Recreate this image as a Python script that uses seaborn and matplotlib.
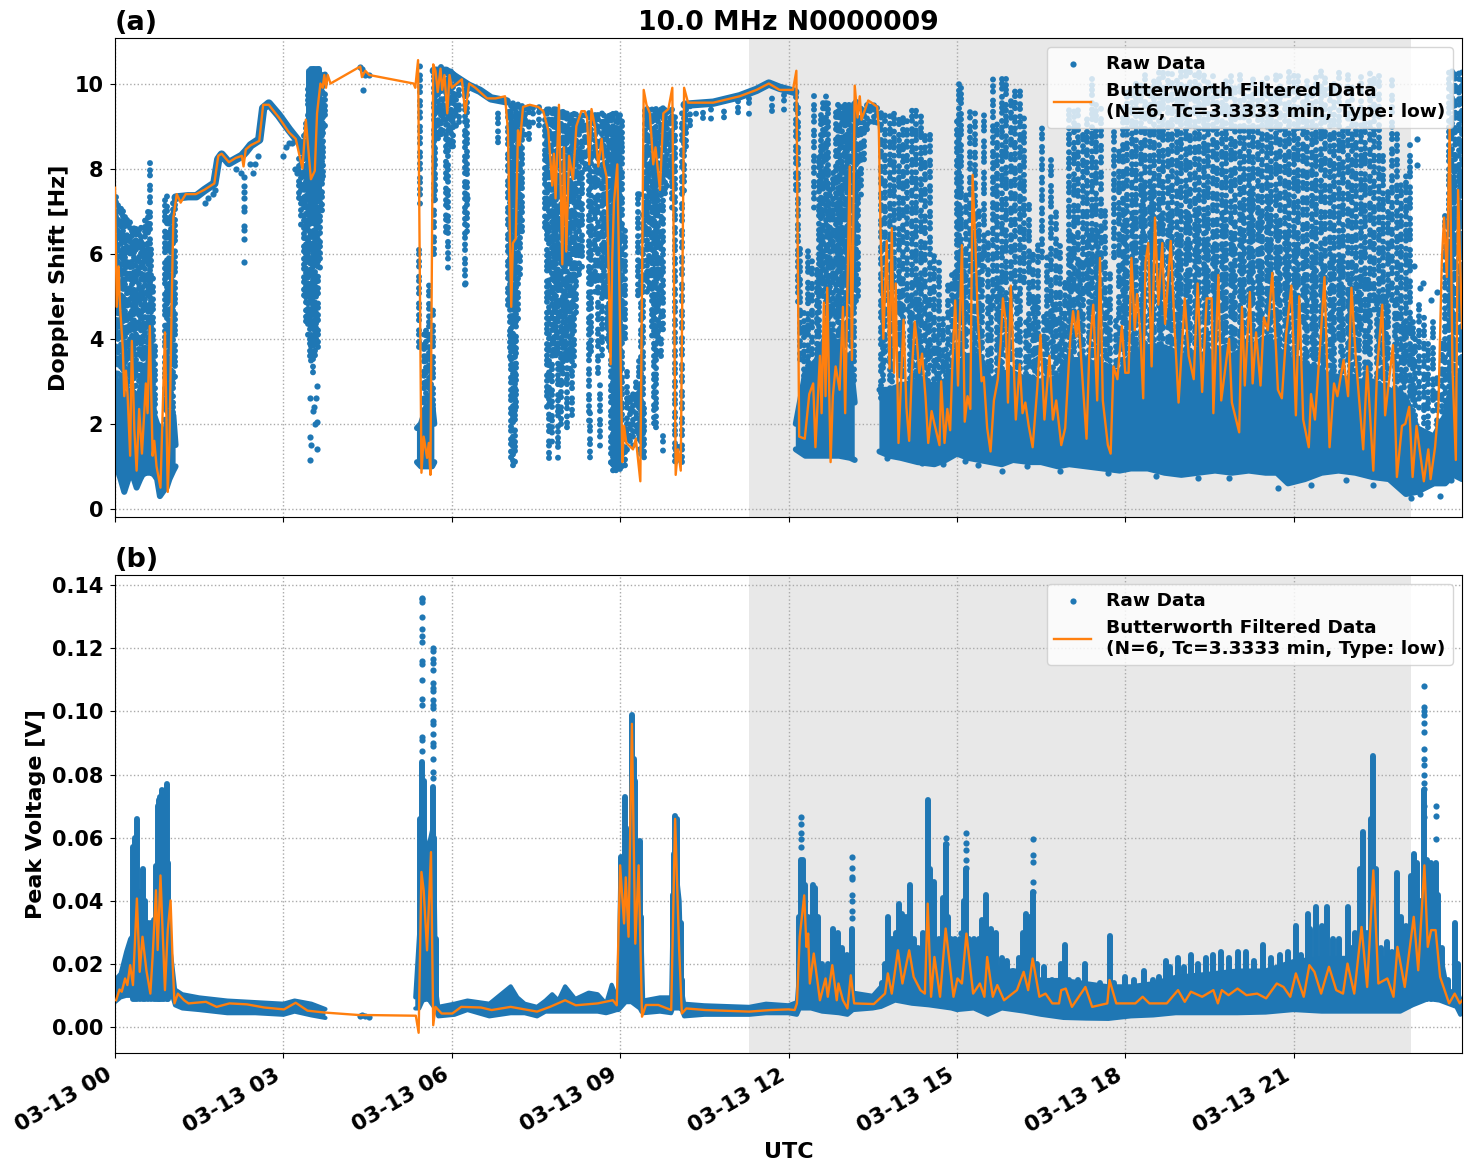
import numpy as np
import matplotlib
matplotlib.use("Agg")
import matplotlib.pyplot as plt
from matplotlib.ticker import FuncFormatter
import seaborn as sns

nan = float("nan")
BLUE = "#1f77b4"
ORANGE = "#ff7f0e"

# ---- Doppler shift: raw data envelope (solid lower belts), hours UTC / Hz ----
belt_t = [0, .05, .1, .165, .25, .3, .385, .45, .49, .55, .6, .65, .7, .75, .8, .88, .92, .97, 1.04, 1.08, nan,
          5.38, 5.45, 5.55, 5.65, 5.69, nan,
          8.84, 8.92, 9.03, nan,
          12.13, 12.3, 12.5, 12.7, 12.9, 13.1, 13.18, nan,
          13.62, 13.8, 14.0, 14.3, 14.6, 14.8, 15.0, 15.2, 15.4, 15.6, 15.8, 16.0, 16.3, 16.5, 16.8, 17.0, 17.3, 17.6,
          17.9, 18.1, 18.4, 18.7, 19.0, 19.3, 19.6, 19.9, 20.2, 20.5, 20.7, 20.9, 21.2, 21.5, 21.8, 22.1, 22.4, 22.7,
          23.0, 23.2, 23.5, 23.7, 23.85, 24]
belt_lo = [1.4, .9, .7, .4, .75, .85, .5, .7, .8, .85, .85, .85, .8, .7, .3, .45, .5, .7, .9, 1.0, nan,
           1.1, 1.0, 1.0, 1.0, 1.1, nan,
           1.1, 1.0, 1.0, nan,
           1.4, 1.25, 1.25, 1.25, 1.25, 1.2, 1.15, nan,
           1.35, 1.25, 1.2, 1.1, 1.05, 1.15, 1.3, 1.2, 1.15, 1.1, 1.05, 1.15, 1.1, 1.1, 1.0, 1.05, 1.0, .95,
           .9, .95, .95, .85, .8, .85, .9, .85, .9, .85, .85, .6, .7, .85, .9, .85, .75, .7,
           .35, .4, .6, .6, .8, .7]
belt_hi = [3.0, 3.0, 3.0, 2.6, 2.6, 2.8, 2.6, 2.8, 3.0, 3.0, 3.5, 3.0, 2.2, 2.0, 1.9, 1.7, 2.0, 2.0, 2.2, 1.5, nan,
           1.9, 2.0, 2.4, 2.5, 2.0, nan,
           8.5, 8.8, 8.6, nan,
           2.0, 3.2, 3.5, 4.2, 3.8, 3.5, 2.5, nan,
           2.8, 2.8, 2.9, 3.0, 2.9, 3.0, 3.4, 3.6, 3.6, 3.0, 3.2, 3.2, 3.0, 3.0, 3.0, 3.5, 3.5, 3.3,
           3.2, 3.6, 3.8, 3.8, 3.6, 3.6, 3.7, 3.6, 3.8, 4.0, 3.8, 3.5, 3.4, 3.2, 3.1, 3.0, 3.0, 2.8,
           2.6, 1.9, 1.7, 2.2, 3.0, 3.2]

# Tight ridge where the raw points hug the filtered trace
ridge_t = [1.08, 1.3, 1.45, 1.6, 1.77, 1.84, 1.9, 2.03, 2.15, 2.26, 2.33, 2.42, 2.57, 2.64, 2.74, 2.92, 3.1, 3.22, 3.32, nan,
           5.68, 5.9, 6.1, 6.3, 6.5, 6.7, 6.98, nan,
           10.15, 10.66, 11.13, 11.43, 11.65, 11.84, 12.12]
ridge_v = [7.32, 7.35, 7.35, 7.5, 7.65, 8.22, 8.33, 8.13, 8.22, 8.3, 8.4, 8.55, 8.68, 9.42, 9.53, 9.25, 8.92, 8.72, 8.55, nan,
           10.3, 10.3, 10.12, 9.95, 9.83, 9.65, 9.58, nan,
           9.5, 9.55, 9.7, 9.85, 10.0, 9.9, 9.8]

# Columns of closely spaced raw samples: time, lower and upper Hz
early_t = [.02, .06, .1, .14, .18, .22, .26, .3, .34, .38, .42, .46, .5, .54, .58, .62, .65, .68, .72, .89, .92, .96, 1.0, 1.04, 1.07]
early_lo = [2.8, 3.1, 2.7, 3.0, 2.6, 2.9, 2.7, 3.2, 2.6, 2.8, 3.0, 2.7, 2.9, 3.1, 3.2, 2.8, 3.0, 2.6, 2.0, 2.0, 2.3, 1.6, 2.1, 1.8, 3.0]
early_hi = [7.35, 7.25, 7.1, 7.0, 6.9, 6.9, 6.8, 6.7, 6.7, 6.65, 6.55, 6.7, 6.4, 6.85, 7.2, 8.2, 6.3, 5.5, 3.9, 7.4, 7.4, 6.8, 7.0, 7.3, 7.3]

burst_t = [3.28, 3.32, 3.36, 3.40, 3.44, 3.47, 3.50, 3.53, 3.56, 3.59, 3.62, 3.65, 3.68, 3.71, 3.74, 5.42, 5.44]
burst_lo = [7.3, 6.6, 5.0, 4.4, 4.0, 3.6, 3.4, 3.2, 3.6, 3.9, 3.8, 5.6, 7.0, 7.8, 8.9, 3.8, 7.1]
burst_hi = [8.3, 8.7, 8.8, 9.2, 10.0, 7.4, 7.4, 7.4, 7.4, 7.4, 7.4, 10.3, 10.2, 10.3, 10.3, 6.1, 10.5]
solid_t = [3.46, 3.49, 3.52, 3.55, 3.58, 3.61, 3.64]
solid_lo = [7.3, 7.2, 7.2, 7.2, 7.3, 7.3, 7.4]
solid_hi = [10.3, 10.35, 10.35, 10.35, 10.35, 10.35, 10.35]

morning_t = [5.5, 5.55, 5.6, 5.63, 5.66, 5.68, 5.7, 5.75, 5.8, 5.85, 5.9, 5.94, 5.98, 6.02, 6.07, 6.13, 6.23, 6.27, 6.82]
morning_lo = [2.2, 2.3, 2.2, 2.1, 2.0, 6.0, 7.2, 8.7, 8.8, 8.8, 6.5, 5.6, 8.5, 8.5, 8.9, 9.1, 5.2, 6.5, 8.6]
morning_hi = [4.2, 4.2, 5.3, 3.5, 4.7, 10.4, 10.4, 10.4, 10.4, 10.35, 10.35, 10.35, 10.3, 10.25, 10.2, 10.2, 9.9, 10.0, 9.4]

midday_t = [7.0, 7.03, 7.06, 7.09, 7.12, 7.15, 7.18, 7.21, 7.25, 7.30, 7.37, 7.45, 7.55,
            7.66, 7.70, 7.74, 7.78, 7.82, 7.86, 7.90, 7.94, 7.98, 8.02, 8.06, 8.10, 8.14, 8.18, 8.22, 8.26,
            8.32, 8.38, 8.44, 8.47, 8.48, 8.55, 8.6, 8.64, 8.68, 8.72, 8.76, 8.8, 8.84, 8.88, 8.92, 8.96, 9.0, 9.03,
            9.08, 9.08, 9.12, 9.17, 9.23, 9.28, 9.31, 9.33, 9.37, 9.4,
            9.42, 9.44, 9.48, 9.52, 9.56, 9.6, 9.64, 9.68, 9.72, 9.76, 9.76, 9.8, 9.84, 9.88, 9.93,
            9.97, 9.99, 10.04, 10.1, 10.13, 10.17, 10.25, 10.35, 10.47, 10.62, 10.85, 11.1, 11.3, 11.7, 11.92]
midday_lo = [4.8, 3.5, 1.2, 1.0, 1.0, 2.4, 4.4, 5.5, 6.5, 8.7, 8.7, 9.0, 9.0,
             6.6, 2.3, 1.2, 1.5, 3.6, 3.6, 1.1, 2.0, 2.9, 3.5, 1.9, 3.2, 2.2, 3.3, 4.6, 5.5,
             5.6, 8.0, 2.0, 1.2, 3.7, 5.0, 3.2, 1.4, 3.6, 5.0, 3.9, 3.8, 1.0, .9, .9, 1.0, .95, 1.2,
             1.0, 4.0, 1.3, 1.6, 1.4, 1.8, 5.0, 1.3, 1.3, 1.2,
             1.2, 6.5, 5.0, 5.2, 4.0, 2.0, 1.9, 3.6, 3.6, 1.3, 4.2, 7.4, 7.5, 7.8, 7.0,
             1.1, 1.1, 1.1, 1.1, 7.4, 8.5, 9.0, 9.2, 9.2, 9.1, 9.2, 9.3, 9.2, 9.35, 9.3]
midday_hi = [9.5, 9.5, 9.6, 9.55, 9.55, 9.55, 9.55, 9.55, 9.5, 9.5, 9.45, 9.45, 9.45,
             9.4, 9.4, 9.4, 9.4, 9.4, 9.4, 9.4, 9.4, 9.4, 9.4, 9.35, 9.35, 9.35, 9.35, 9.35, 9.35,
             9.35, 9.35, 9.35, 2.3, 9.35, 9.35, 9.35, 3.0, 9.35, 9.35, 9.35, 9.35, 9.35, 9.35, 9.35, 9.35, 9.35, 9.3,
             1.9, 6.7, 3.3, 2.8, 2.7, 3.0, 7.4, 3.5, 5.7, 7.0,
             2.5, 9.45, 9.45, 9.45, 9.45, 9.45, 9.45, 9.45, 9.45, 1.8, 9.45, 9.4, 9.4, 9.4, 9.4,
             9.3, 1.4, 1.5, 9.4, 9.3, 9.5, 9.5, 9.5, 9.4, 9.4, 9.5, 9.6, 9.7, 9.7, 9.85]

noon_t = [12.14, 12.17, 12.20, 12.27, 12.35, 12.42, 12.46, 12.50, 12.55, 12.58, 12.62, 12.66, 12.70, 12.74, 12.80, 12.84,
          12.88, 12.92, 12.96, 13.0, 13.04, 13.08, 13.12, 13.16, 13.2, 13.24, 13.30, 13.34, 13.4, 13.46, 13.52, 13.58]
noon_lo = [7.5, 4.8, 3.5, 3.0, 3.0, 3.0, 7.0, 3.0, 3.6, 5.0, 5.0, 4.3, 3.6, 3.5, 3.5, 4.5,
           3.5, 3.5, 3.5, 3.5, 4.0, 4.0, 3.5, 3.0, 4.8, 5.0, 7.3, 8.2, 8.9, 9.0, 9.1, 9.0]
noon_hi = [10.0, 9.5, 6.3, 4.6, 6.1, 5.9, 9.7, 5.8, 8.4, 9.3, 9.7, 9.7, 9.6, 7.5, 8.0, 9.5,
           9.6, 9.6, 9.6, 9.6, 9.6, 9.6, 9.6, 9.6, 9.6, 9.6, 9.5, 9.55, 9.6, 9.55, 9.5, 9.5]

eve_t = [13.64, 13.72, 13.80, 13.88, 13.96, 14.04, 14.12, 14.20, 14.28, 14.36,
         14.44, 14.52, 14.60, 14.68, 14.76, 14.84, 14.92, 15.00, 15.03, 15.08,
         15.16, 15.24, 15.32, 15.40, 15.48, 15.56, 15.64, 15.72, 15.80, 15.88,
         15.96, 16.04, 16.12, 16.20, 16.28, 16.36, 16.44, 16.52, 16.60, 16.68,
         16.76, 16.84, 16.92, 17.00, 17.08, 17.16, 17.24, 17.32, 17.40, 17.48,
         17.56, 17.64, 17.72, 17.80, 17.88, 17.96, 18.04, 18.12, 18.20, 18.28,
         18.36, 18.44, 18.52, 18.60, 18.68, 18.76, 18.84, 18.92, 19.00, 19.08,
         19.16, 19.24, 19.32, 19.40, 19.48, 19.56, 19.64, 19.72, 19.80, 19.88,
         19.96, 20.04, 20.12, 20.20, 20.28, 20.36, 20.44, 20.52, 20.60, 20.68,
         20.76, 20.84, 20.92, 21.00, 21.08, 21.16, 21.24, 21.32, 21.40, 21.48,
         21.56, 21.64, 21.72, 21.80, 21.88, 21.96, 22.04, 22.12, 22.20, 22.28,
         22.36, 22.44, 22.52, 22.60, 22.68, 22.76, 22.84, 22.92, 23.00, 23.08,
         23.16, 23.24, 23.32, 23.40, 23.48, 23.56, 23.64, 23.70, 23.76, 23.82,
         23.88, 23.94, 24.0]
eve_lo = [2.6, 3.4, 2.4, 5.2, 2.8, 2.5, 4.6, 2.7, 3.1, 2.5,
          2.7, 3.3, 2.6, 2.5, 2.9, 2.6, 2.8, 3.4, 4.6, 3.3,
          3.2, 4.1, 3.6, 3.0, 5.6, 2.7, 4.7, 3.1, 2.6, 3.5,
          2.9, 4.9, 3.3, 5.3, 3.0, 2.7, 3.1, 5.9, 2.6, 3.8,
          2.8, 3.2, 2.7, 3.0, 2.6, 4.2, 3.3, 5.1, 3.6, 2.9,
          3.1, 2.7, 2.6, 5.9, 3.4, 2.5, 3.7, 2.9, 3.3, 2.6,
          3.5, 2.8, 3.1, 2.6, 3.9, 3.0, 2.7, 3.4, 2.9, 3.2,
          2.7, 3.6, 3.0, 2.8, 3.3, 2.6, 3.1, 2.9, 3.7, 2.7,
          3.2, 2.9, 3.5, 2.6, 3.0, 3.8, 2.7, 3.3, 2.8, 3.1,
          2.6, 3.4, 2.9, 3.1, 2.7, 4.4, 3.0, 3.6, 2.5, 3.2,
          2.8, 3.3, 2.6, 4.0, 2.9, 3.5, 2.7, 3.1, 4.2, 2.6,
          3.0, 4.6, 2.8, 2.6, 3.2, 4.9, 2.7, 2.4, 3.0, 2.3,
          1.8, 2.3, 2.0, 1.9, 2.2, 1.7, 2.0, 2.4, 2.6, 3.2,
          2.9, 4.4, 2.7]
eve_hi = [9.4, 9.3, 9.3, 9.35, 9.2, 9.4, 9.2, 9.4, 9.4, 9.3,
          9.0, 8.9, 6.0, 5.8, 4.5, 5.3, 5.6, 9.2, 10.1, 10.0,
          7.5, 9.4, 9.3, 7.0, 9.3, 6.5, 10.15, 9.2, 10.1, 10.1,
          9.7, 9.9, 9.9, 9.2, 7.2, 6.0, 6.4, 9.0, 6.0, 8.2,
          7.0, 6.2, 5.5, 9.5, 9.6, 9.5, 9.0, 9.3, 10.1, 9.5,
          9.5, 7.0, 5.6, 9.0, 8.5, 9.5, 10.0, 10.0, 10.1, 10.0,
          10.2, 10.0, 10.2, 10.3, 10.3, 10.3, 10.3, 10.2, 10.3, 10.3,
          10.3, 10.2, 10.3, 10.25, 10.2, 10.2, 10.0, 9.9, 10.1, 10.2,
          10.0, 10.2, 9.8, 10.0, 10.2, 10.1, 10.1, 10.2, 9.8, 10.2,
          10.2, 10.0, 10.3, 10.2, 10.3, 9.6, 10.2, 10.0, 10.2, 10.3,
          10.3, 9.9, 10.0, 10.3, 9.0, 10.2, 10.0, 9.3, 10.3, 9.2,
          10.3, 10.2, 10.3, 8.3, 7.5, 10.2, 9.0, 7.7, 8.0, 8.6,
          4.0, 4.8, 4.5, 4.0, 4.5, 3.2, 4.0, 7.0, 10.3, 10.35,
          10.35, 10.35, 10.35]

fill_t = [13.68, 13.84, 14.0, 14.16, 14.32, 14.48, 14.64, 14.8, 14.96, 15.12,
          15.28, 15.44, 15.6, 15.76, 15.92, 16.08, 16.24, 16.4, 16.56, 16.72,
          16.88, 17.04, 17.2, 17.36, 17.52, 17.68, 17.84, 18.0, 18.16, 18.32,
          18.48, 18.64, 18.8, 18.96, 19.12, 19.28, 19.44, 19.6, 19.76, 19.92,
          20.08, 20.24, 20.4, 20.56, 20.72, 20.88, 21.04, 21.2, 21.36, 21.52,
          21.68, 21.84, 22.0, 22.16, 22.32, 22.48, 22.64, 22.8, 22.96, 23.12,
          23.78, 23.86, 23.96]
fill_lo = [2.4, 2.7, 2.5, 2.8, 2.6, 2.9, 2.5, 2.7, 3.0, 2.8,
           3.1, 2.9, 2.6, 2.8, 2.5, 2.7, 2.9, 2.6, 2.8, 2.5,
           2.7, 3.0, 3.2, 2.9, 3.1, 2.6, 2.8, 3.0, 3.3, 3.1,
           3.4, 3.2, 2.9, 3.1, 3.3, 3.0, 3.2, 2.9, 3.1, 3.4,
           3.0, 3.3, 3.5, 3.2, 3.0, 2.8, 3.1, 2.9, 2.7, 2.9,
           2.6, 2.8, 2.5, 2.7, 2.6, 2.8, 2.5, 2.7, 2.4, 2.2,
           3.0, 3.3, 3.1]
fill_hi = [5.5, 6.0, 5.5, 5.0, 5.5, 5.0, 4.0, 3.8, 5.6, 6.0,
           6.5, 6.0, 5.0, 5.5, 5.0, 5.0, 4.5, 5.0, 4.6, 5.0,
           4.6, 6.5, 6.0, 6.5, 6.5, 5.0, 4.5, 7.0, 7.0, 7.5,
           7.5, 7.0, 7.0, 6.5, 7.0, 7.0, 6.5, 6.5, 7.0, 6.8,
           7.0, 7.5, 7.0, 7.2, 6.8, 6.5, 6.5, 6.0, 6.0, 5.8,
           6.0, 6.0, 5.5, 5.5, 5.5, 5.0, 5.0, 5.0, 4.5, 4.5,
           8.0, 8.0, 8.0]

# Isolated raw Doppler samples, then the lowest samples of the evening
stray_t = [1.6, 1.65, 1.75, 1.78, 2.15, 2.25, 2.29, 2.29, 2.29, 2.29, 2.29, 2.29, 2.29, 2.29, 2.29, 2.29,
           2.4, 2.45, 2.5, 2.55, 3.0, 3.05, 3.1, 3.15, 3.2, 3.25,
           3.47, 3.47, 3.47, 3.5, 3.53, 3.55, 3.57, 3.58, 3.6, 3.6, 3.6,
           4.36, 4.4, 4.42, 4.46, 4.53, 6.24, 6.27, 9.34, 9.36,
           23.19, 23.19, 23.15, 23.25, 23.3, 23.45, 23.55,
           13.76, 14.38, 14.76, 15.14, 15.38, 15.8, 16.25, 16.84, 17.7, 18.54, 19.3, 19.85, 20.72, 21.31, 21.93, 22.42,
           22.9, 23.1, 23.25, 23.6, 23.8]
stray_v = [7.2, 7.3, 7.4, 7.5, 8.0, 7.9, 5.8, 6.35, 6.55, 6.65, 7.0, 7.1, 7.3, 7.45, 7.6, 7.8,
           8.1, 7.9, 8.1, 8.3, 8.3, 8.5, 8.6, 8.6, 8.0, 7.9,
           1.15, 1.7, 2.6, 1.5, 2.3, 2.4, 2.0, 2.6, 1.4, 2.05, 2.9,
           10.4, 10.35, 9.85, 10.2, 10.2, 5.3, 7.3, 7.4, 5.8,
           8.7, 8.08, 5.7, 5.2, 5.3, 4.9, 5.1,
           1.2, 1.08, 1.06, 1.12, 1.04, .88, 1.0, .88, .85, .77, .73, .73, .49, .57, .69, .57,
           .53, .26, .34, .3, .69]

# Filtered Doppler trace
filt_t = [0, .03, .065, .09, .14, .165, .195, .225, .27, .30, .345, .385, .43, .48, .55, .58, .62, .67, .70, .74, .81, .89, .94, .97,
          1.01, 1.04, 1.10, 1.17, 1.26, 1.44, 1.59, 1.77, 1.84, 1.90, 2.03, 2.15, 2.26, 2.29, 2.33, 2.42, 2.57, 2.64, 2.74, 2.92,
          3.10, 3.22, 3.34, 3.40, 3.49, 3.56, 3.60, 3.66, 3.70, 3.73, 3.76, 3.79, 3.84, 4.37, 4.40, 4.46, 4.53, 5.32, 5.35, 5.40,
          5.46, 5.50, 5.56, 5.59, 5.62, 5.67, 5.71, 5.75, 5.80, 5.83, 5.87, 5.92, 5.96, 6.0, 6.18, 6.24, 6.31, 6.42, 6.63, 6.78,
          6.95, 7.0, 7.06, 7.09, 7.14, 7.18, 7.21, 7.27, 7.39, 7.54, 7.63, 7.72, 7.79, 7.82, 7.85, 7.91, 7.97, 8.0, 8.04, 8.09,
          8.16, 8.22, 8.31, 8.37, 8.41, 8.45, 8.49, 8.55, 8.61, 8.67, 8.71, 8.76, 8.83, 8.86, 8.89, 8.95, 9.04, 9.07, 9.11, 9.23,
          9.28, 9.36, 9.42, 9.47, 9.53, 9.59, 9.63, 9.71, 9.77, 9.86, 9.93, 9.99, 10.03, 10.08, 10.14, 10.21, 10.66, 11.13, 11.43,
          11.65, 11.84, 12.08, 12.14, 12.19, 12.29, 12.37, 12.44, 12.48, 12.56, 12.59, 12.63, 12.66, 12.69, 12.75, 12.79, 12.84,
          12.91, 12.97, 13.01, 13.09, 13.13, 13.18, 13.23, 13.27, 13.3, 13.42, 13.48, 13.58,
          13.61, 13.64, 13.69, 13.75, 13.80, 13.84, 13.88, 13.91, 13.96, 14.05, 14.10, 14.15, 14.20, 14.25, 14.29, 14.33, 14.38, 14.44,
          14.49, 14.55, 14.60, 14.69, 14.72, 14.78, 14.83, 14.88, 14.92, 14.97, 15.02, 15.09, 15.14, 15.19, 15.24, 15.28, 15.33, 15.37,
          15.44, 15.48, 15.54, 15.60, 15.66, 15.73, 15.78, 15.82, 15.87, 15.91, 15.96, 16.05, 16.12, 16.17, 16.22, 16.28, 16.35, 16.43,
          16.49, 16.56, 16.65, 16.71, 16.77, 16.86, 16.93, 17.02, 17.07, 17.13, 17.16, 17.23, 17.31, 17.36, 17.43, 17.50, 17.55, 17.60,
          17.69, 17.74, 17.79, 17.86, 17.94, 18.0, 18.06, 18.11, 18.17, 18.21, 18.27, 18.32, 18.36, 18.41, 18.47, 18.53, 18.59, 18.66,
          18.71, 18.81, 18.88, 18.95, 19.06, 19.13, 19.22, 19.29, 19.37, 19.45, 19.54, 19.57, 19.66, 19.71, 19.85, 19.90, 20.03, 20.08,
          20.13, 20.22, 20.27, 20.33, 20.41, 20.47, 20.54, 20.62, 20.72, 20.79, 20.87, 20.96, 21.04, 21.10, 21.17, 21.27,
          21.31, 21.38, 21.48, 21.55, 21.64, 21.72, 21.78, 21.89, 21.97, 22.03, 22.11, 22.24, 22.31, 22.42, 22.49, 22.58,
          22.63, 22.77, 22.84, 22.93, 22.99, 23.06, 23.12, 23.19, 23.32, 23.40, 23.44, 23.52, 23.58, 23.64, 23.68, 23.73,
          23.78, 23.83, 23.89, 23.93, 24.0]
filt_v = [7.55, 4.75, 5.7, 4.75, 3.75, 2.65, 3.25, 2.65, 1.25, 3.95, 1.85, .9, 2.35, 1.3, 2.95, 2.25, 4.3, 1.25, 1.6, 1.0, .5, 4.15, .4, 1.5,
          4.85, 6.85, 7.4, 7.2, 7.4, 7.4, 7.5, 7.65, 8.3, 8.35, 8.15, 8.25, 8.3, 8.05, 8.45, 8.55, 8.65, 9.5, 9.5, 9.2,
          8.85, 8.7, 8.0, 9.15, 7.75, 7.95, 9.3, 10.0, 9.9, 10.2, 9.9, 10.2, 10.0, 10.4, 10.15, 10.3, 10.2, 10.0, 9.9, 10.55,
          .85, 1.7, 1.2, 1.55, .8, 10.45, 10.3, 9.8, 10.35, 9.85, 10.2, 9.3, 10.2, 9.9, 10.1, 9.3, 10.0, 9.9, 9.65, 9.65,
          9.7, 8.9, 4.75, 6.25, 6.35, 8.9, 8.55, 9.45, 9.5, 9.45, 9.35, 8.9, 7.6, 8.35, 7.3, 9.5, 5.75, 8.5, 6.05, 8.3,
          7.75, 9.0, 9.35, 9.35, 9.2, 8.1, 9.4, 9.0, 8.05, 8.7, 8.1, 7.8, 3.4, 5.9, 7.2, 8.1, 1.1, 1.95, 1.55, 1.4,
          1.65, .65, 9.85, 9.5, 9.3, 8.1, 8.5, 7.5, 9.3, 9.4, 9.9, .8, 1.4, .9, 9.9, 9.55, 9.55, 9.7, 9.85,
          10.0, 9.85, 9.85, 10.3, 1.7, 1.65, 2.7, 2.95, 1.45, 3.6, 2.25, 4.85, 2.65, 5.2, 1.1, 2.65, 3.35,
          2.8, 4.75, 2.25, 8.05, 3.5, 9.95, 9.2, 9.7, 9.15, 9.6, 9.55, 9.45,
          8.9, 6.55, 4.0, 6.3, 3.3, 6.6, 3.2, 5.3, 1.55, 4.45, 2.4, 1.6, 3.3, 4.4, 3.9, 3.2, 3.65, 2.65,
          1.55, 2.3, 2.0, 1.5, 3.0, 1.55, 2.35, 1.85, 3.4, 4.9, 2.9, 6.2, 2.05, 2.65, 2.35, 7.85, 6.2, 4.6,
          3.0, 3.1, 1.9, 1.35, 2.55, 3.05, 3.9, 4.95, 4.4, 2.5, 5.25, 2.1, 3.4, 2.25, 2.5, 1.95, 1.45, 2.8,
          4.1, 2.1, 3.6, 2.1, 2.55, 1.5, 1.9, 4.0, 4.65, 4.05, 4.65, 3.2, 1.65, 3.7, 4.8, 2.55, 5.9, 2.55,
          1.5, 1.3, 3.35, 3.05, 4.3, 3.2, 3.2, 5.9, 4.2, 5.05, 4.1, 2.6, 5.8, 6.25, 3.35, 6.85, 4.8, 6.25,
          4.35, 6.3, 4.2, 2.5, 4.95, 3.6, 3.05, 5.3, 2.75, 4.95, 4.95, 2.25, 5.5, 2.55, 4.0, 2.5, 1.8, 4.75,
          2.9, 5.1, 2.95, 4.15, 2.9, 4.5, 4.2, 5.55, 2.8, 2.6, 4.15, 5.25, 2.2, 5.0, 2.1, 1.45,
          2.7, 2.1, 4.0, 5.45, 1.45, 2.95, 2.65, 3.5, 2.65, 5.2, 3.5, 1.4, 3.35, .9, 3.35, 4.8,
          2.2, 3.85, .75, 1.95, 2.0, 2.4, .75, 1.95, .65, 1.4, .7, 1.45, 2.4, 5.8, 6.85, 5.45,
          9.0, 3.3, 1.15, 7.5, 4.25]

# ---- Peak voltage: raw data ----
vbelt_t = [0, .1, .2, .27, .35, .45, .55, .62, .68, .75, .85, .95, 1.02, 1.07, 1.2, 1.5, 2.0, 2.5, 3.0, 3.2, 3.5, 3.75, nan,
           5.35, 5.42, 5.47, 5.55, 5.62, 5.68, 5.72, 5.76, 6.05, 6.28, 6.67, 7.05, 7.17, 7.3, 7.52, 7.67, 7.79, 7.9, 8.02, 8.2,
           8.44, 8.6, 8.75, 8.85, 8.94, 8.97, 9.0, 9.1, 9.2, 9.35, 9.38, 9.41, 9.71, 9.91, 9.94, 10.0, 10.06, 10.1, 10.14, 10.5, 11.3, 11.6, 12.0, 12.15,
           12.2, 12.4, 12.6, 12.9, 13.05, 13.15, 13.5, 13.65, 13.9, 14.2, 14.5, 14.9, 15.0, 15.3, 15.55, 15.8, 16.2, 16.5, 16.9,
           17.3, 17.7, 18.1, 18.5, 18.9, 19.5, 20.0, 20.5, 21.0, 21.5, 22.0, 22.5, 22.9, 23.12, 23.4, 23.6, 23.75, 23.9, 23.97, 24]
vbelt_lo = [.0080, .0095, .0100, .0100, .0105, .0105, .0105, .0100, .0090, .0110, .0110, .0105, .0100, .0070, .0060, .0055, .0045, .0045, .0040, .0050, .0038, .0030, nan,
            .0060, .0060, .0080, .0100, .0080, .0065, .0055, .0035, .0040, .0055, .0035, .0045, .0045, .0045, .0035, .0050, .0050, .0050, .0050, .0050,
            .0050, .0050, .0045, .0050, .0055, .0055, .0060, .0080, .0080, .0060, .0050, .0045, .0050, .0045, .0060, .0060, .0060, .0055, .0035, .0040, .0040, .0045, .0045, .0040,
            .0060, .0060, .0050, .0045, .0040, .0055, .0060, .0065, .0085, .0075, .0070, .0060, .0055, .0060, .0040, .0060, .0050, .0040, .0030,
            .0028, .0027, .0035, .0038, .0045, .0045, .0045, .0047, .0055, .0050, .0050, .0050, .0050, .0070, .0090, .0085, .0075, .0065, .0040, .0045]
vbelt_hi = [.0150, .0170, .0240, .0280, .0300, .0280, .0300, .0280, .0300, .0400, .0400, .0300, .0200, .0120, .0105, .0095, .0085, .0080, .0075, .0085, .0075, .0058, nan,
            .0095, .0300, .0700, .0550, .0600, .0650, .0120, .0065, .0075, .0085, .0075, .0130, .0095, .0075, .0065, .0085, .0105, .0085, .0130, .0090,
            .0110, .0105, .0075, .0135, .0095, .0095, .0450, .0500, .0500, .0300, .0300, .0085, .0095, .0095, .0400, .0500, .0400, .0120, .0075, .0070, .0065, .0075, .0070, .0080,
            .0200, .0250, .0150, .0150, .0120, .0110, .0100, .0130, .0220, .0240, .0240, .0230, .0220, .0220, .0220, .0180, .0180, .0150, .0150,
            .0140, .0130, .0130, .0140, .0160, .0170, .0180, .0180, .0210, .0220, .0220, .0220, .0220, .0300, .0340, .0250, .0110, .0120, .0090, .0085]

vbar_t = [.32, .35, .40, .44, .49, .53, .58, .64, .70, .73, .76, .79, .81, .84, .87, .92, .95,
          5.44, 5.47, 5.50, 5.53, 5.58, 5.62, 5.66, 5.69, 5.72,
          9.02, 9.05, 9.08, 9.11, 9.15, 9.19, 9.21, 9.24, 9.27, 9.31, 9.35, 9.38,
          9.94, 9.96, 9.98, 10.01, 10.04, 10.08, 10.11,
          12.19, 12.22, 12.26, 12.3, 12.35, 12.44, 12.48, 12.52, 12.6, 12.7, 12.8, 12.88, 12.95, 13.04, 13.13,
          13.66, 13.72, 13.78, 13.84, 13.92, 13.97, 14.03, 14.1, 14.17, 14.23, 14.3, 14.4, 14.48, 14.52, 14.6, 14.68, 14.75, 14.8, 14.85,
          14.9, 14.97, 15.05, 15.12, 15.17, 15.22, 15.3, 15.4, 15.45, 15.52, 15.6, 15.7, 15.8, 15.9, 16.0, 16.1, 16.18, 16.23, 16.3, 16.35,
          16.42, 16.55, 16.7, 16.85, 16.92, 17.0, 17.15, 17.29, 17.4, 17.55, 17.72, 17.8, 18.0, 18.15, 18.33, 18.5, 18.6, 18.72, 18.8, 18.94,
          19.05, 19.17, 19.3, 19.43, 19.57, 19.7, 19.85, 20.0, 20.16, 20.3, 20.46, 20.6, 20.75, 20.9, 21.04, 21.13, 21.25, 21.3, 21.4, 21.5,
          21.6, 21.7, 21.8, 21.96, 22.03, 22.1, 22.18, 22.24, 22.3, 22.38, 22.42, 22.46, 22.55, 22.67, 22.76, 22.85, 22.92, 23.0, 23.1, 23.15,
          23.2, 23.27, 23.33, 23.38, 23.45, 23.53, 23.58, 23.65, 23.75, 23.87, 23.92]
vbar_hi = [.057, .060, .066, .043, .050, .040, .033, .033, .034, .051, .070, .072, .073, .075, .061, .077, .052,
           .066, .084, .078, .055, .050, .055, .076, .060, .028,
           .054, .052, .073, .063, .040, .060, .099, .085, .078, .040, .059, .035,
           .042, .055, .067, .066, .040, .033, .015,
           .035, .053, .053, .045, .035, .045, .044, .035, .020, .020, .031, .030, .025, .023, .031,
           .014, .020, .035, .028, .030, .039, .036, .035, .045, .028, .025, .030, .072, .050, .046, .028, .041, .058, .035,
           .028, .028, .028, .040, .050, .028, .028, .028, .034, .042, .031, .030, .022, .021, .018, .022, .030, .036, .035, .043,
           .020, .019, .015, .020, .026, .015, .015, .020, .012, .014, .029, .014, .016, .015, .018, .015, .016, .021, .019, .022,
           .019, .023, .020, .022, .023, .024, .022, .024, .024, .021, .026, .022, .023, .024, .032, .023, .036, .031, .038, .032,
           .038, .028, .028, .038, .025, .030, .050, .062, .030, .066, .086, .050, .025, .027, .024, .049, .035, .032, .048, .055,
           .052, .040, .075, .053, .052, .052, .042, .025, .015, .033, .020]

vdot_t = [5.47, 5.47, 5.47, 5.47, 5.47, 5.47, 5.47, 5.47, 5.47, 5.47, 5.47, 5.47, 5.47, 5.47, 5.47,
          5.66, 5.66, 5.66, 5.66, 5.66, 5.66, 5.66, 5.66, 5.66, 5.66, 5.66, 5.66, 5.66, 5.66, 5.66, 5.66, 5.66, 5.66, 5.66,
          12.22, 12.22, 12.22, 12.22, 12.22,
          13.13, 13.13, 13.13, 13.13, 13.13, 13.13, 13.13, 13.13,
          15.08, 15.08, 15.17, 15.17, 15.17, 15.17, 15.17, 14.8, 14.8,
          16.35, 16.35, 16.35, 16.35, 16.35,
          23.33, 23.33, 23.33, 23.33, 23.33, 23.33, 23.33, 23.33, 23.33, 23.33, 23.33, 23.33, 23.33, 23.33,
          23.53, 23.53, 23.53, 4.36, 4.4, 4.45, 4.53]
vdot_v = [.136, .1355, .1345, .130, .126, .124, .122, .116, .115, .110, .104, .102, .092, .091, .0875,
          .120, .119, .1165, .1155, .113, .109, .1075, .1065, .1035, .102, .101, .097, .096, .093, .090, .089, .085, .081, .079,
          .0665, .0645, .0615, .0595, .0570,
          .0540, .0505, .0475, .0470, .0420, .0400, .0370, .0345,
          .0300, .0275, .0615, .0585, .056, .053, .0505, .060, .058,
          .0595, .0545, .0525, .046, .043,
          .108, .1015, .100, .099, .0965, .0935, .0880, .0850, .083, .080, .0775, .0755, .0700, .0665,
          .070, .067, .0595, .0035, .0038, .0036, .0033]

# Filtered voltage trace
vfilt_t = [.02, .08, .12, .18, .22, .27, .32, .39, .44, .49, .56, .63, .67, .73, .76, .81, .89, .94, .99, 1.03, 1.06, 1.12, 1.23, 1.31, 1.62, 1.81,
           2.04, 2.35, 2.66, 3.01, 3.22, 3.43, 3.74, 4.36, 4.55, 5.36, 5.41, 5.46, 5.50, 5.56, 5.63, 5.67, 5.71, 5.82, 6.01, 6.17, 6.52, 6.71,
           7.05, 7.52, 7.75, 8.02, 8.21, 8.60, 8.87, 8.94, 9.0, 9.07, 9.10, 9.15, 9.21, 9.27, 9.33, 9.39, 9.46, 9.68, 9.91, 9.98, 10.05, 10.10,
           10.18, 10.52, 11.3, 11.68, 12.0, 12.11, 12.15, 12.2, 12.28, 12.32, 12.35, 12.38, 12.45, 12.56, 12.66, 12.7, 12.78, 12.86, 12.89, 12.97,
           13.05, 13.11, 13.17, 13.52, 13.72, 13.77, 13.84, 13.95, 14.03, 14.15, 14.23, 14.35, 14.43, 14.48, 14.54, 14.6, 14.7, 14.8, 14.94, 15.01,
           15.09, 15.17, 15.29, 15.41, 15.49, 15.54, 15.64, 15.72, 15.84, 16.07, 16.19, 16.27, 16.35, 16.47, 16.58, 16.7, 16.82, 16.86, 16.94, 17.05,
           17.29, 17.41, 17.68, 17.72, 17.84, 18.08, 18.18, 18.31, 18.43, 18.74, 18.94, 19.06, 19.17, 19.37, 19.57, 19.65, 19.72, 19.84, 20.0, 20.16,
           20.35, 20.51, 20.7, 20.82, 20.94, 21.04, 21.18, 21.28, 21.37, 21.49, 21.63, 21.76, 21.88, 21.96, 22.08, 22.21, 22.31, 22.42, 22.51, 22.67,
           22.78, 22.85, 22.98, 23.14, 23.22, 23.33, 23.39, 23.45, 23.53, 23.61, 23.77, 23.87, 23.96, 24.0]
vfilt_v = [.0086, .012, .0113, .0155, .0134, .0197, .0134, .0408, .0176, .0287, .018, .0107, .0223, .0434, .0245, .0481, .0118, .0308, .0402, .0192, .0076, .0107, .0086, .0076, .0081, .0065,
           .0076, .0073, .0063, .0057, .0078, .0053, .0047, .0039, .0039, .0037, -.0017, .0492, .0434, .0244, .0555, .0007, .0065, .0044, .0044, .0065, .0063, .0055,
           .0065, .0050, .0065, .0086, .0070, .0076, .0086, .0070, .0513, .0329, .0475, .0287, .0961, .0265, .0513, .0034, .0071, .0071, .0055, .066, .0255, .0044,
           .0060, .0055, .0050, .0055, .0057, .0055, .0076, .0287, .0418, .0255, .0297, .0139, .0234, .0086, .0155, .0097, .0197, .0086, .0139, .0086,
           .0060, .0165, .0076, .0074, .0107, .0171, .0107, .0244, .0139, .0244, .0160, .0118, .0107, .0392, .0097, .0223, .0097, .0313, .0097, .0155,
           .0139, .0297, .0107, .0139, .0097, .0223, .0097, .0134, .0086, .0118, .0176, .0118, .0218, .0097, .0107, .0076, .0076, .0118, .0123, .0065,
           .0128, .0065, .0076, .015, .0076, .0076, .0076, .0097, .0076, .0076, .0118, .0081, .0113, .0097, .0118, .0076, .0118, .0102, .0123, .0102,
           .0107, .0092, .0139, .0128, .0097, .0171, .0097, .0197, .0176, .0107, .0192, .0118, .0107, .0202, .0107, .0318, .0128, .0497, .0139, .0155,
           .0097, .0255, .0128, .035, .0181, .0513, .0255, .0308, .0308, .0160, .0076, .0107, .0076, .0085]

SHADE = (11.3, 23.1)
DOT_PT = 4.3
TICKS = [0, 3, 6, 9, 12, 15, 18, 21]
FILTER_LABEL = "Butterworth Filtered Data\n(N=6, Tc=3.3333 min, Type: low)"

# Uneven dash patterns so that neighbouring sample columns do not line up in rows
BEAD_STYLES = [(0.0, (0.01, 0.85, 0.01, 1.2, 0.01, 0.7, 0.01, 1.7)),
               (1.3, (0.01, 1.1, 0.01, 0.75, 0.01, 1.5, 0.01, 0.9)),
               (0.6, (0.01, 0.7, 0.01, 0.95, 0.01, 1.25, 0.01, 0.8, 0.01, 1.4)),
               (2.1, (0.01, 1.35, 0.01, 0.85, 0.01, 0.75, 0.01, 1.05)),
               (0.2, (0.01, 0.9, 0.01, 1.8, 0.01, 0.7, 0.01, 0.8, 0.01, 1.0))]

W, H = 1471, 1172
fig = plt.figure(figsize=(W / 100, H / 100), dpi=100)
ax_a = fig.add_axes([115 / W, 1 - 517 / H, 1347 / W, 479 / H])
ax_b = fig.add_axes([115 / W, 1 - 1053 / H, 1347 / W, 478 / H])


def beads(ax, t, lo, hi):
    """Columns of samples, each drawn as a string of round dots."""
    ax.vlines(t, lo, hi, colors=BLUE, linewidths=DOT_PT, linestyles=BEAD_STYLES, capstyle="round", zorder=2)


def belt(ax, t, lo, hi, rim=DOT_PT):
    """Solid band of overlapping samples with a rounded rim."""
    ax.fill_between(t, lo, hi, color=BLUE, lw=0, zorder=2)
    for edge in (lo, hi):
        ax.plot(t, edge, color=BLUE, lw=rim, solid_capstyle="round", solid_joinstyle="round", zorder=2)


# Panel (a)
belt(ax_a, belt_t, belt_lo, belt_hi)
ax_a.plot(ridge_t, ridge_v, color=BLUE, lw=6, solid_capstyle="round", zorder=2)
for cols in ((early_t, early_lo, early_hi), (burst_t, burst_lo, burst_hi), (morning_t, morning_lo, morning_hi),
             (midday_t, midday_lo, midday_hi), (noon_t, noon_lo, noon_hi), (eve_t, eve_lo, eve_hi),
             (fill_t, fill_lo, fill_hi)):
    beads(ax_a, *cols)
ax_a.vlines(solid_t, solid_lo, solid_hi, colors=BLUE, linewidths=DOT_PT, capstyle="round", zorder=2)
sns.scatterplot(x=stray_t, y=stray_v, ax=ax_a, color=BLUE, s=20, linewidth=0, zorder=2, label="Raw Data")
sns.lineplot(x=filt_t, y=filt_v, ax=ax_a, color=ORANGE, lw=1.7, sort=False, estimator=None, zorder=3, label=FILTER_LABEL)

# Panel (b)
belt(ax_b, vbelt_t, vbelt_lo, vbelt_hi, rim=3)
ax_b.vlines(vbar_t, .009, vbar_hi, colors=BLUE, linewidths=DOT_PT, capstyle="round", zorder=2)
sns.scatterplot(x=vdot_t, y=vdot_v, ax=ax_b, color=BLUE, s=20, linewidth=0, zorder=2, label="Raw Data")
sns.lineplot(x=vfilt_t, y=vfilt_v, ax=ax_b, color=ORANGE, lw=1.7, sort=False, estimator=None, zorder=3, label=FILTER_LABEL)

ax_a.set_ylim(-0.19, 11.07)
ax_a.set_yticks([0, 2, 4, 6, 8, 10])
ax_b.set_ylim(-0.0081, 0.1432)
ax_b.set_yticks([0, .02, .04, .06, .08, .10, .12, .14])
ax_b.set_yticklabels(["0.00", "0.02", "0.04", "0.06", "0.08", "0.10", "0.12", "0.14"])

for ax in (ax_a, ax_b):
    ax.axvspan(*SHADE, color="black", alpha=0.09, lw=0, zorder=0)
    ax.set_xlim(0, 24)
    ax.set_xticks(TICKS)
    ax.grid(True, ls=":", color="#aaaaaa", lw=1, zorder=1)
    ax.set_axisbelow(True)
    ax.tick_params(axis="y", labelsize=15, pad=5)
    ax.tick_params(axis="x", labelsize=15.7, pad=5)
    for lab in ax.get_yticklabels():
        lab.set_fontweight("bold")
    ax.legend(loc="upper right", prop={"size": 13.3, "weight": "bold"})

ax_a.tick_params(labelbottom=False)
ax_b.xaxis.set_major_formatter(FuncFormatter(lambda h, _: f"03-13 {int(h):02d}"))
for lab in ax_b.get_xticklabels():
    lab.set_rotation(30)
    lab.set_ha("right")
    lab.set_fontweight("bold")

ax_a.set_ylabel("Doppler Shift [Hz]", fontsize=16, fontweight="bold")
ax_b.set_ylabel("Peak Voltage [V]", fontsize=16, fontweight="bold")
ax_b.set_xlabel("UTC", fontsize=16, fontweight="bold")
ax_a.set_title("10.0 MHz N0000009", fontsize=19.2, fontweight="bold")
ax_a.set_title("(a)", loc="left", fontsize=19.5, fontweight="bold")
ax_b.set_title("(b)", loc="left", fontsize=19.5, fontweight="bold")

fig.savefig("out.png", dpi=100)
